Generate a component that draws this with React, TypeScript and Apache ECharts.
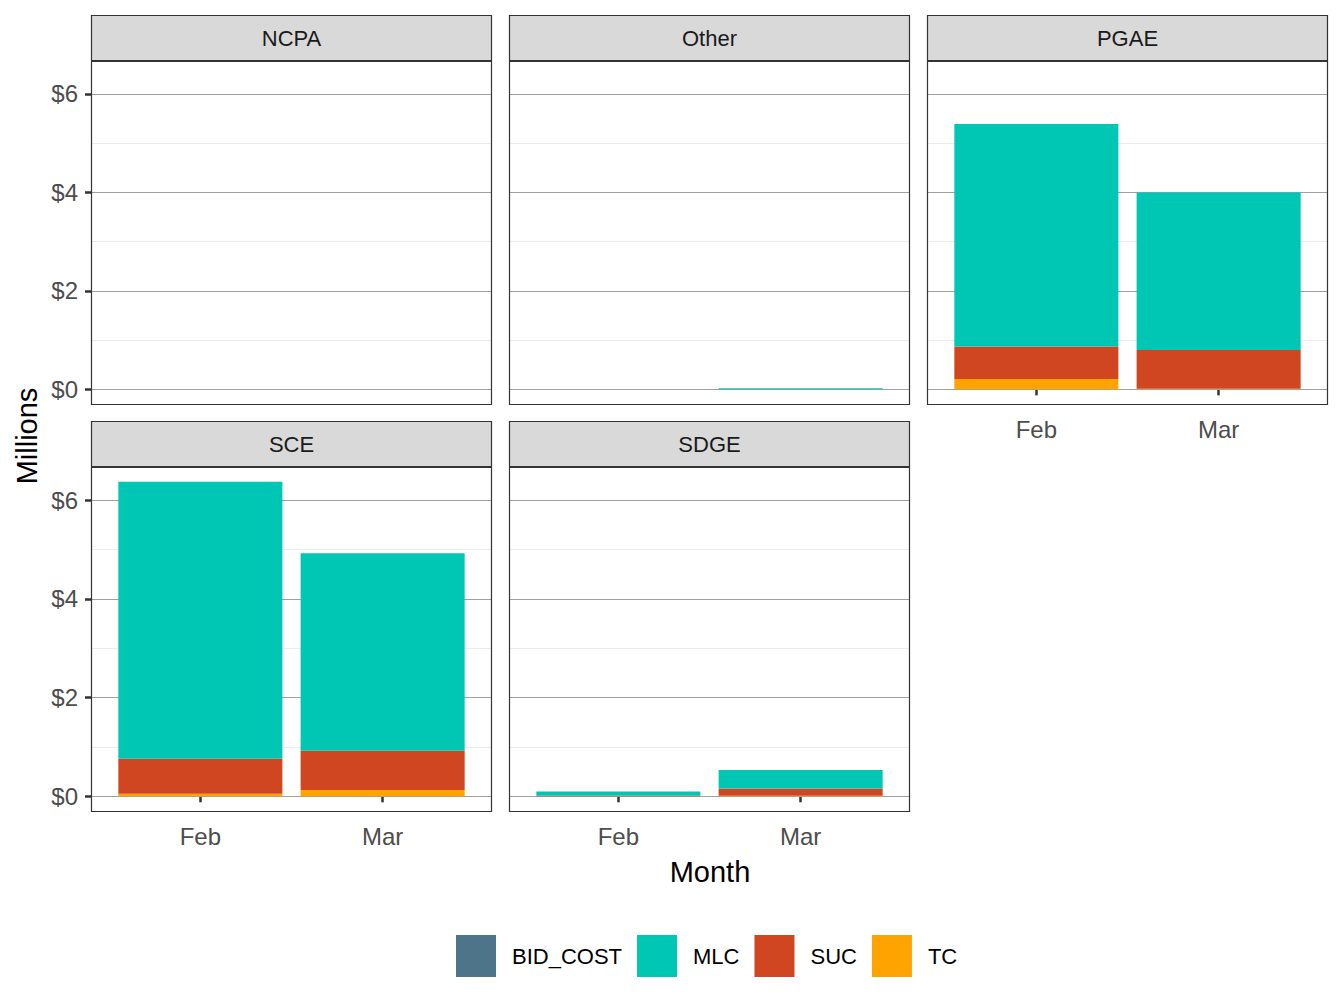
import React, { useEffect, useRef } from "react";
import * as echarts from "echarts";

const panels = ["NCPA", "Other", "PGAE", "SCE", "SDGE"];
const months = ["Feb", "Mar"];
const components = ["BID_COST", "MLC", "SUC", "TC"];
const colors: Record<string, string> = {
  BID_COST: "#4E7489",
  MLC: "#00C7B3",
  SUC: "#D04620",
  TC: "#FFA300",
};
// values in millions, per panel: [Feb, Mar]
const bidCost = [[0, 0], [0, 0], [0, 0], [0, 0], [0, 0]];
const mlc = [[0, 0], [0, 0.02], [4.52, 3.2], [5.61, 4.0], [0.08, 0.375]];
const suc = [[0, 0], [0, 0], [0.66, 0.79], [0.71, 0.795], [0.015, 0.15]];
const tc = [[0, 0], [0, 0], [0.21, 0.01], [0.05, 0.13], [0, 0.01]];
const yTicks = [0, 2, 4, 6];
const yMinor = [1, 3, 5];
const xTicks = [1, 2];

const FONT = "Liberation Sans, Arial, Helvetica, sans-serif";

export default function App() {
  const ref = useRef<HTMLDivElement>(null);
  useEffect(() => {
    if (!ref.current) return;
    const chart = echarts.init(ref.current, null, { renderer: "svg" });

    const layout = [
      { left: 91, top: 61, width: 401, height: 344, yLab: true, xLab: false },
      { left: 509, top: 61, width: 401, height: 344, yLab: false, xLab: false },
      { left: 927, top: 61, width: 401, height: 344, yLab: false, xLab: true },
      { left: 91, top: 467, width: 401, height: 345, yLab: true, xLab: true },
      { left: 509, top: 467, width: 401, height: 345, yLab: false, xLab: true },
    ];

    const grids = layout.map((l) => ({
      left: l.left,
      top: l.top,
      width: l.width,
      height: l.height,
      show: false,
      containLabel: false,
    }));

    const xAxes = layout.map((l, i) => ({
      type: "value",
      gridIndex: i,
      min: 0.4,
      max: 2.6,
      splitLine: { show: false },
      axisLine: { show: false },
      axisTick: {
        show: l.xLab,
        customValues: xTicks,
        length: 6,
        lineStyle: { color: "#333333", width: 2.5 },
      },
      axisLabel: {
        show: l.xLab,
        customValues: xTicks,
        formatter: (v: number) => months[Math.round(v) - 1] ?? "",
        fontSize: 24,
        color: "#4D4D4D",
        fontFamily: FONT,
        margin: 12,
      },
    }));

    const yAxes = layout.map((l, i) => ({
      type: "value",
      gridIndex: i,
      min: -0.318,
      max: 6.67,
      splitLine: { show: false },
      axisLine: { show: false },
      axisTick: {
        show: l.yLab,
        customValues: yTicks,
        length: 6,
        lineStyle: { color: "#333333", width: 2.5 },
      },
      axisLabel: {
        show: l.yLab,
        customValues: yTicks,
        formatter: (v: number) => "$" + v,
        fontSize: 24,
        color: "#4D4D4D",
        fontFamily: FONT,
        margin: 13,
      },
    }));

    const compData: Record<string, number[][]> = {
      BID_COST: bidCost,
      MLC: mlc,
      SUC: suc,
      TC: tc,
    };
    const stackOrder = ["TC", "SUC", "MLC", "BID_COST"];

    const series: any[] = [];
    panels.forEach((p, i) => {
      const barWidth = (0.9 * layout[i].width) / 2.2;
      series.push({
        type: "line",
        name: "_grid" + i,
        xAxisIndex: i,
        yAxisIndex: i,
        data: [],
        z: 1,
        silent: true,
        markLine: {
          silent: true,
          z: 1,
          symbol: "none",
          animation: false,
          label: { show: false },
          emphasis: { disabled: true },
          data: [
            ...yMinor.map((v) => ({ yAxis: v, lineStyle: { color: "#EBEBEB", width: 1, type: "solid" } })),
            ...yTicks.map((v) => ({ yAxis: v, lineStyle: { color: "#A0A0A0", width: 1, type: "solid" } })),
          ],
        },
      });
      stackOrder.forEach((c) => {
        series.push({
          type: "bar",
          name: c,
          xAxisIndex: i,
          yAxisIndex: i,
          stack: "s" + i,
          barWidth,
          z: 3,
          itemStyle: { color: colors[c] },
          encode: { x: 1, y: 0 },
          data: xTicks.map((x, j) => [compData[c][i][j], x]),
        });
      });
    });

    const graphics: any[] = [];
    layout.forEach((l, i) => {
      graphics.push({
        type: "rect",
        shape: { x: l.left + 0.5, y: l.top + 0.5, width: l.width - 1, height: l.height - 1 },
        style: { fill: "none", stroke: "#333333", lineWidth: 1.2 },
        z: 10,
        silent: true,
      });
      graphics.push({
        type: "rect",
        shape: { x: l.left + 0.5, y: l.top - 45.5, width: l.width - 1, height: 45 },
        style: { fill: "#D9D9D9", stroke: "#333333", lineWidth: 1.2 },
        z: 10,
      });
      graphics.push({
        type: "text",
        x: l.left + l.width / 2,
        y: l.top - 23,
        style: {
          text: panels[i],
          fill: "#1A1A1A",
          font: `22px ${FONT}`,
          textAlign: "center",
          textVerticalAlign: "middle",
        },
        z: 11,
      });
    });
    graphics.push({
      type: "text",
      x: 27,
      y: 436,
      rotation: Math.PI / 2,
      style: {
        text: "Millions",
        fill: "#000000",
        font: `29px ${FONT}`,
        textAlign: "center",
        textVerticalAlign: "middle",
      },
    });
    graphics.push({
      type: "text",
      x: 710,
      y: 872,
      style: {
        text: "Month",
        fill: "#000000",
        font: `29px ${FONT}`,
        textAlign: "center",
        textVerticalAlign: "middle",
      },
    });

    chart.setOption({
      animation: false,
      backgroundColor: "#FFFFFF",
      grid: grids,
      xAxis: xAxes,
      yAxis: yAxes,
      series,
      legend: {
        data: components.map((c) => ({ name: c, itemStyle: { color: colors[c] } })),
        left: 456,
        top: 935,
        padding: 0,
        orient: "horizontal",
        icon: "rect",
        itemWidth: 40,
        itemHeight: 42,
        itemGap: 15,
        selectedMode: false,
        textStyle: {
          fontSize: 22,
          color: "#000000",
          fontFamily: FONT,
          padding: [0, 0, 0, 11],
        },
      },
      graphic: graphics,
    });

    return () => chart.dispose();
  }, []);

  return (
    <div
      ref={ref}
      style={{ position: "fixed", left: 0, top: 0, width: 1344, height: 1008 }}
    />
  );
}
